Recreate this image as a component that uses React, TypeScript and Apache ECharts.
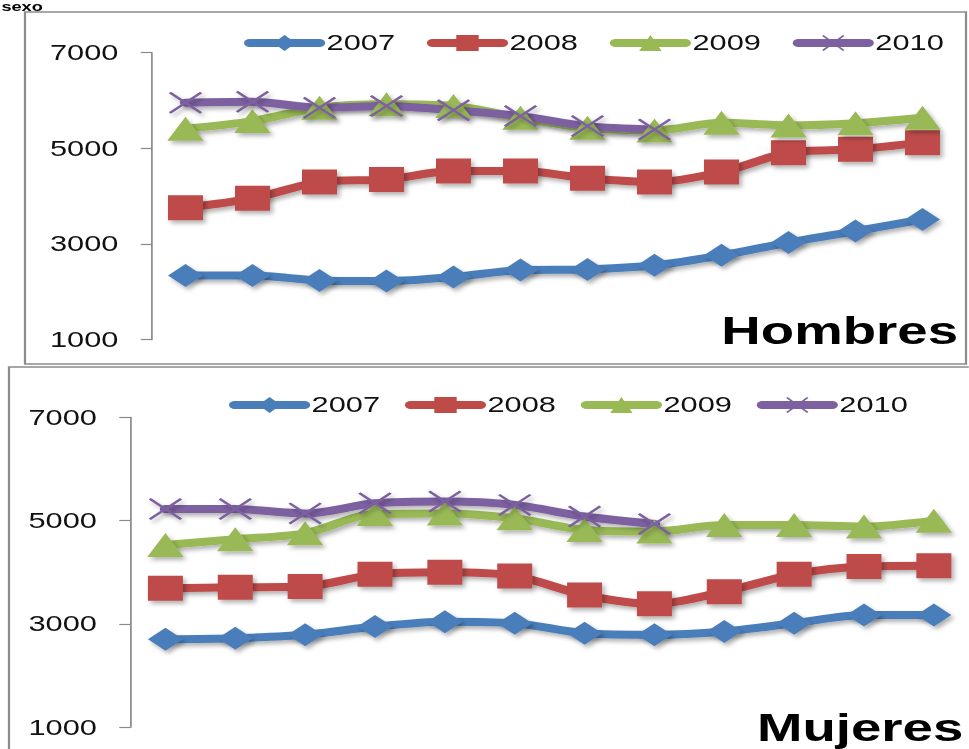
import React, { useEffect, useRef } from "react";
import * as echarts from "echarts";

const months = ["ene", "feb", "mar", "abr", "may", "jun", "jul", "ago", "sep", "oct", "nov", "dic"];
const seriesNames = ["2007", "2008", "2009", "2010"];
const yTicks = { min: 1000, max: 7000, interval: 2000 };

// Hombres
const hombres2007 = [2340, 2340, 2240, 2225, 2310, 2455, 2470, 2555, 2765, 3030, 3270, 3515];
const hombres2008 = [3760, 3955, 4295, 4350, 4525, 4525, 4375, 4295, 4505, 4910, 4980, 5120];
const hombres2009 = [5410, 5570, 5850, 5920, 5885, 5640, 5430, 5375, 5535, 5480, 5525, 5640];
const hombres2010 = [5955, 5975, 5850, 5885, 5795, 5675, 5465, 5395];

// Mujeres
const mujeres2007 = [2705, 2725, 2790, 2950, 3045, 3015, 2820, 2790, 2855, 3015, 3175, 3175];
const mujeres2008 = [3690, 3710, 3725, 3960, 4000, 3930, 3560, 3390, 3625, 3960, 4110, 4125];
const mujeres2009 = [4530, 4640, 4755, 5130, 5140, 5045, 4820, 4790, 4915, 4915, 4885, 5000];
const mujeres2010 = [5225, 5225, 5140, 5335, 5370, 5305, 5080, 4935];

const colors = ["#4A7EBB", "#BE4B48", "#98B954", "#7D60A0"];
const XPATH = "path://M0,1.6L1.6,0L24,22.4L22.4,24ZM22.4,0L24,1.6L1.6,24L0,22.4Z";
const symbols = ["diamond", "rect", "triangle", XPATH];
const symbolSizes: any[] = [[25, 23], [25, 25], [26, 24], [24, 22]];

const SX = 1.4; // horizontal stretch of the whole picture
const W = 692;
const H = 749;
const FONT = "Liberation Sans";

export default function App() {
  const ref = useRef<HTMLDivElement>(null);
  useEffect(() => {
    if (!ref.current) return;
    const chart = echarts.init(ref.current, null, { renderer: "svg" });
    const groups = [
      [hombres2007, hombres2008, hombres2009, hombres2010],
      [mujeres2007, mujeres2008, mujeres2009, mujeres2010],
    ];
    const series: any[] = [];
    groups.forEach((g, gi) => {
      g.forEach((data, i) => {
        series.push({
          type: "line",
          name: seriesNames[i],
          xAxisIndex: gi,
          yAxisIndex: gi,
          data,
          smooth: 0.3,
          symbol: symbols[i],
          symbolSize: symbolSizes[i],
          showAllSymbol: true,
          color: colors[i],
          lineStyle: {
            width: 8,
            color: colors[i],
            cap: "round",
            shadowColor: "rgba(0,0,0,0.3)",
            shadowBlur: 4,
            shadowOffsetX: 2,
            shadowOffsetY: 3,
          },
          itemStyle: {
            color: colors[i],
            shadowColor: "rgba(0,0,0,0.3)",
            shadowBlur: 4,
            shadowOffsetX: 2,
            shadowOffsetY: 3,
          },
          emphasis: { disabled: true },
        });
      });
    });
    const yAxisBase = {
      type: "value",
      min: yTicks.min,
      max: yTicks.max,
      interval: yTicks.interval,
      splitLine: { show: false },
      axisLine: { show: true, lineStyle: { color: "#8a8a8a", width: 1.2 } },
      axisTick: { show: true, inside: false, length: 8, lineStyle: { color: "#8a8a8a", width: 1.2 } },
      axisLabel: {
        color: "#111",
        fontSize: 22,
        fontFamily: FONT,
        margin: 24,
        formatter: (v: number) => String(v),
      },
    };
    const legendBase = {
      data: seriesNames,
      orient: "horizontal",
      itemWidth: 50,
      itemHeight: 20,
      padding: 0,
      lineStyle: { width: 8, cap: "round" },
      textStyle: { fontSize: 22, fontFamily: FONT, color: "#111" },
      selectedMode: false,
    };
    chart.setOption({
      animation: false,
      backgroundColor: "#ffffff",
      grid: [
        { left: 152 / SX, top: 52.7, width: 804 / SX, height: 287 },
        { left: 130.5 / SX, top: 417.3, width: 852 / SX, height: 310 },
      ],
      xAxis: [
        { type: "category", data: months, gridIndex: 0, show: false, boundaryGap: true },
        { type: "category", data: months, gridIndex: 1, show: false, boundaryGap: true },
      ],
      yAxis: [
        { ...yAxisBase, gridIndex: 0 },
        { ...yAxisBase, gridIndex: 1 },
      ],
      legend: [
        { ...legendBase, left: 244 / SX, top: 32, width: 560, itemGap: 22.7 },
        { ...legendBase, left: 229 / SX, top: 394, width: 560, itemGap: 17.7 },
      ],
      graphic: [
        {
          type: "rect",
          silent: true,
          z: -10,
          shape: { x: 25 / SX, y: 12, width: 941 / SX, height: 352 },
          style: { fill: "none", stroke: "#8c8c8c", lineWidth: 1.6 },
        },
        {
          type: "rect",
          silent: true,
          z: -10,
          shape: { x: 9 / SX, y: 367, width: 720, height: 420 },
          style: { fill: "none", stroke: "#8c8c8c", lineWidth: 1.6 },
        },
        {
          type: "text",
          silent: true,
          x: 958 / SX,
          y: 330,
          style: {
            text: "Hombres",
            font: 'bold 39px "Liberation Sans"',
            fill: "#000",
            align: "right",
            textAlign: "right",
            verticalAlign: "middle",
            textVerticalAlign: "middle",
          },
        },
        {
          type: "text",
          silent: true,
          x: 757 / SX,
          y: 727,
          style: {
            text: "Mujeres",
            font: 'bold 39px "Liberation Sans"',
            fill: "#000",
            align: "left",
            textAlign: "left",
            verticalAlign: "middle",
            textVerticalAlign: "middle",
          },
        },
        {
          type: "text",
          silent: true,
          x: 1,
          y: 0,
          style: {
            text: "sexo",
            font: 'bold 13px "Liberation Sans"',
            fill: "#000",
            align: "left",
            textAlign: "left",
            verticalAlign: "top",
            textVerticalAlign: "top",
          },
        },
      ],
      series,
    });
    return () => chart.dispose();
  }, []);
  return (
    <div
      ref={ref}
      style={{
        position: "absolute",
        left: 0,
        top: 0,
        width: W,
        height: H,
        transform: `scaleX(${SX})`,
        transformOrigin: "0 0",
        background: "#fff",
      }}
    />
  );
}
